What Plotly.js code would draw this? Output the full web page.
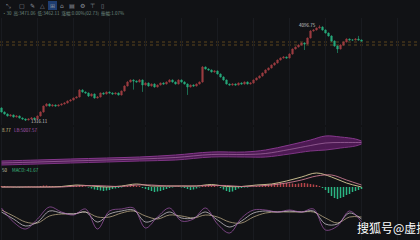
<!DOCTYPE html>
<html><head><meta charset="utf-8">
<script src="https://cdn.plot.ly/plotly-3.0.1.min.js"></script>
<style>html,body{margin:0;padding:0;background:#111215;overflow:hidden}#chart{width:420px;height:240px;}</style>
</head><body><div id="chart"></div>
<script>
// ---- price candles (close values) ----
const closes = [
1577,1519,1461,1490,1432,1461,1403,1374,1345,1374,
1403,1374,1461,1577,1751,1809,1751,1780,1751,1780,
1809,1838,1896,1925,1983,2012,2215,2157,2128,2041,
2099,1983,2012,2128,2099,2157,2128,2099,2128,2070,
2186,2331,2447,2505,2476,2447,2505,2360,2418,2331,
2389,2302,2360,2418,2389,2447,2505,2447,2389,2505,
2447,2389,2302,2360,2331,2389,2447,2882,2824,2795,
2737,2766,2679,2592,2505,2389,2360,2389,2360,2418,
2389,2447,2389,2418,2505,2563,2621,2708,2795,2853,
2940,2998,3085,3143,3172,3143,3259,3404,3462,3520,
3578,3549,3723,3926,3955,4013,4042,3955,3868,3781,
3636,3491,3404,3520,3607,3694,3665,3665,3694,3665,
3636];
const firstOpen = 1693;
const upWick = [
20,15,15,25,15,20,15,15,15,20,
25,15,15,20,15,25,15,20,15,15,
15,20,15,20,15,15,25,20,15,15,
20,15,25,15,20,15,15,20,15,15,
15,20,25,15,20,15,30,15,20,15,
15,20,15,15,20,15,25,15,15,20,
15,20,15,15,20,15,15,30,15,20,
15,20,15,15,20,15,15,20,15,15,
20,15,15,20,15,15,20,15,20,15,
15,20,15,15,25,15,20,15,15,20,
15,20,15,25,20,15,55,20,15,15,
20,15,15,25,15,20,15,15,20,90,
15];
const downWick = [
15,20,15,15,20,15,15,20,29,15,
15,20,15,15,20,15,15,20,15,15,
20,15,15,20,15,15,15,20,15,30,
15,20,15,15,20,15,15,20,15,15,
15,20,15,15,250,15,15,200,15,20,
15,20,15,15,20,15,15,20,15,15,
20,15,230,15,20,15,15,20,15,15,
15,20,15,15,20,15,15,20,15,15,
15,20,15,15,20,15,15,20,15,15,
15,20,15,15,20,15,15,20,15,15,
15,174,15,15,20,15,15,20,15,15,
25,20,116,15,20,15,15,20,15,15,
15];
const refLevels = [3607, 3520];
const highLabel = '4096.75';
const lowLabel = '1316.11';

// ---- band panel ----
const bandIdx   = [0,12,23,35,46,58,70,81,88,96,103,108,113,118,120];
const bandUpper = [6,7,8,9,10,12,15,15,17,22,27,31,30,28,26];
const bandLower = [2,3,4,5,6,7,10,10,10,13,16,17,19,21,23];
const bandMid   = [4,5,6,7,8,9.5,12.5,12.5,13.5,17.5,21.5,24,24.5,24.5,24.5];

// ---- MACD panel ----
const macdHist = [
1,1,0.5,0.3,-0.3,-0.5,-0.5,-0.3,0.3,0.5,
0.5,0.3,0.5,1,1.5,1.5,1,0.8,0.5,0.3,
0.3,0.5,0.8,1,1.2,1.5,2,1.5,0.5,-0.5,
-1.5,-2.5,-3,-3.5,-4,-3.5,-3,-2,-1.5,-1,
-0.5,0.5,1,1.5,2,1.5,1,-1,-2,-3,
-4,-5,-4.5,-4,-3,-2,-1,-0.5,0.3,0.5,
-0.5,-1,-2,-3,-2.5,-1.5,-0.5,1,1.5,2,
1.5,1,0.5,-1,-2.5,-4,-5,-4.5,-3,-1.5,
-1,-0.5,-0.5,0.3,0.5,1,1,1.5,2,2.5,
3,3.5,3.5,4,4,4,3.5,3.5,3,3.5,
4,4,3.5,3,2.5,2,1,-1,-3,-6,
-9,-11,-12,-11,-10,-8,-7,-5,-4,-3,
-2];
const macdIdx = [0,5,10,15,20,25,30,35,40,45,50,55,60,65,70,75,80,85,90,95,100,105,110,115,120];
const difLine = [0,0,0,0,0.5,2,1,0,1,3,1,1,1,1,2.5,0.5,0.5,2,3,6,10,14,10,4,0];
const deaLine = [0,0,0,0,0,1,1.5,1,0.5,2,2,1,1,1,1.5,1.5,0.5,1,2,4,7,11,12,7,2];

// ---- KDJ panel ----
const kdjIdx = [0,4,8,12,16,20,24,28,32,36,40,44,48,52,56,60,64,68,72,76,80,84,88,92,96,100,104,108,112,116,120];
const kLine = [28,21,14,18,29,27,26,28,18,26,29,30,18,22,28,22,22,28,20,13,19,27,29,28,29,28,29,16,16,27,21];
const dLine = [30,24,18,17,24,26,26,28,23,23,27,29,24,21,25,24,22,25,23,18,17,23,27,28,28,28,28,22,17,23,23];
const jLine = [32,18,11,21,33,28,25,31,11,29,31,32,12,23,32,19,21,32,16,7,22,30,30,28,30,28,31,10,14,29,18];

// ---- texts ----
const infoText = '·30  高:3471.06  低:3462.11  涨幅:0.00%(02.73)  振幅:1.07%';
const bandLabelA = '8.77', bandLabelB = 'LB:5007.57';
const macdLabelA = '50', macdLabelB = 'MACD:-41.67';
const watermark = '搜狐号@虚拟';

// ---- build ----
const idx = closes.map((_, i) => i);
const opens = [firstOpen].concat(closes.slice(0, -1));
const highs = closes.map((c, i) => Math.max(c, opens[i]) + upWick[i]);
const lows = closes.map((c, i) => Math.min(c, opens[i]) - downWick[i]);
let hi = 0, lo = 0;
highs.forEach((v, i) => { if (v > highs[hi]) hi = i; });
lows.forEach((v, i) => { if (v < lows[lo]) lo = i; });

const W = 420, H = 240;
const px = v => v / W, py = v => 1 - v / H;
const UP = '#9c3d42', DN = '#27a87b';

const traces = [
  {type: 'candlestick', x: idx, open: opens, high: highs, low: lows, close: closes,
   increasing: {line: {color: UP, width: 0.6}, fillcolor: UP},
   decreasing: {line: {color: DN, width: 0.6}, fillcolor: DN},
   whiskerwidth: 0, xaxis: 'x', yaxis: 'y', hoverinfo: 'skip'},
  {x: bandIdx, y: bandLower, yaxis: 'y2', mode: 'lines', line: {color: '#7e3584', width: 1, shape: 'spline'}},
  {x: bandIdx, y: bandUpper, yaxis: 'y2', mode: 'lines', fill: 'tonexty', fillcolor: 'rgba(88,28,94,0.85)',
   line: {color: '#86388c', width: 1, shape: 'spline'}},
  {x: bandIdx, y: bandMid, yaxis: 'y2', mode: 'lines', line: {color: '#b67cb2', width: 0.6, shape: 'spline'}},
  {type: 'bar', x: idx, y: macdHist, yaxis: 'y3', width: 0.5,
   marker: {color: macdHist.map(v => v >= 0 ? '#b5444a' : '#2bb583'), line: {width: 0}}},
  {x: macdIdx, y: difLine, yaxis: 'y3', mode: 'lines', line: {color: '#d9cc98', width: 0.9, shape: 'spline'}},
  {x: macdIdx, y: deaLine, yaxis: 'y3', mode: 'lines', line: {color: '#c77890', width: 0.9, shape: 'spline'}},
  {x: kdjIdx, y: dLine, yaxis: 'y4', mode: 'lines', line: {color: '#cdb990', width: 0.7, shape: 'spline'}},
  {x: kdjIdx, y: kLine, yaxis: 'y4', mode: 'lines', line: {color: '#ddd6de', width: 0.7, shape: 'spline'}},
  {x: kdjIdx, y: jLine, yaxis: 'y4', mode: 'lines', line: {color: '#a458ad', width: 0.7, shape: 'spline'}}
];

const yBase = {showgrid: false, zeroline: false, showticklabels: false, fixedrange: true, anchor: 'x'};
const font = 'Noto Sans CJK SC, Noto Sans, sans-serif';
const icons = ['⤡','▢','✎','△','⊞','⌂','▤','⚙','⊤','▯'];
const iconX = [8,22,32,42,52,62,72,82,92,102];

const annotations = [
  {xref: 'paper', yref: 'paper', x: 0, y: py(13), xanchor: 'left', yanchor: 'middle', showarrow: false,
   text: infoText, font: {size: 4.5, color: '#6f8a80', family: font}},
  {xref: 'paper', yref: 'paper', x: 0, y: py(130), xanchor: 'left', yanchor: 'middle', showarrow: false,
   text: bandLabelA, font: {size: 4.5, color: '#d9c38a', family: font}},
  {xref: 'paper', yref: 'paper', x: px(12), y: py(130), xanchor: 'left', yanchor: 'middle', showarrow: false,
   text: bandLabelB, font: {size: 4.5, color: '#b05ab8', family: font}},
  {xref: 'paper', yref: 'paper', x: 0, y: py(170), xanchor: 'left', yanchor: 'middle', showarrow: false,
   text: macdLabelA, font: {size: 4.5, color: '#c8c8a8', family: font}},
  {xref: 'paper', yref: 'paper', x: px(10), y: py(170), xanchor: 'left', yanchor: 'middle', showarrow: false,
   text: macdLabelB, font: {size: 4.5, color: '#3fbf7f', family: font}},
  {xref: 'x', yref: 'y', x: hi, y: highs[hi], xanchor: 'right', yanchor: 'middle', xshift: -2, showarrow: false,
   text: highLabel, font: {size: 4.5, color: '#c8c8c8', family: font}},
  {xref: 'x', yref: 'y', x: lo, y: lows[lo], xanchor: 'left', yanchor: 'middle', xshift: 3, showarrow: false,
   text: lowLabel, font: {size: 4.5, color: '#c8c8c8', family: font}},
  {xref: 'paper', yref: 'paper', x: px(355), y: py(227), xanchor: 'left', yanchor: 'middle', showarrow: false,
   text: watermark, font: {size: 12, color: '#ffffff', family: font}}
].concat(icons.map((g, i) => ({xref: 'paper', yref: 'paper', x: px(iconX[i]), y: py(5), xanchor: 'center', yanchor: 'middle',
   showarrow: false, text: g, font: {size: 6, color: '#8a8f99', family: 'DejaVu Sans'}})));

const shapes = refLevels.map(v => ({type: 'line', xref: 'paper', x0: 0, x1: 1, yref: 'y', y0: v, y1: v,
   line: {color: '#7d5c24', width: 0.7, dash: 'dot'}, layer: 'below'}));
shapes.push({type: 'rect', xref: 'paper', yref: 'paper', x0: px(48), x1: px(57), y0: py(10), y1: py(1),
   fillcolor: '#1f3d70', line: {width: 0}, layer: 'below'});

const layout = {
  width: W, height: H, margin: {l: 0, r: 0, t: 0, b: 0},
  paper_bgcolor: '#111215', plot_bgcolor: '#111215', showlegend: false,
  xaxis: {range: [-0.5, 139.5], showgrid: true, gridcolor: '#191b20', gridwidth: 1, dtick: 12, tick0: 12,
          zeroline: false, showticklabels: false, rangeslider: {visible: false}, fixedrange: true, anchor: 'y4'},
  yaxis: Object.assign({}, yBase, {domain: [py(125), py(18)], range: [1200, 4303]}),
  yaxis2: Object.assign({}, yBase, {domain: [py(167), py(127)], range: [0, 40]}),
  yaxis3: Object.assign({}, yBase, {domain: [py(200), py(167)], range: [-13, 20]}),
  yaxis4: Object.assign({}, yBase, {domain: [0, py(200)], range: [0, 40]}),
  annotations: annotations, shapes: shapes, hovermode: false
};

Plotly.newPlot('chart', traces, layout, {displayModeBar: false, staticPlot: true});
</script>
</body></html>
